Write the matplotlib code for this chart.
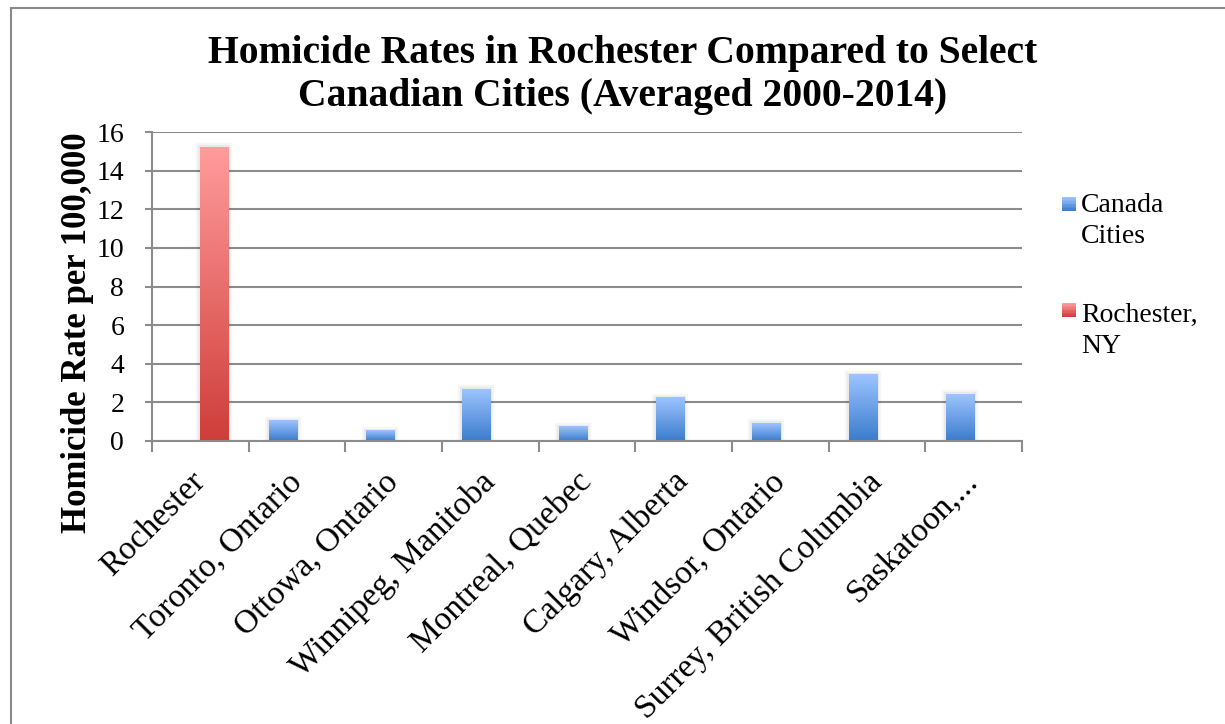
import matplotlib.pyplot as plt
import numpy as np
from matplotlib.colors import LinearSegmentedColormap
from matplotlib.patches import Rectangle

# data
cities = ["Rochester", "Toronto, Ontario", "Ottowa, Ontario", "Winnipeg, Manitoba",
          "Montreal, Quebec", "Calgary, Alberta", "Windsor, Ontario",
          "Surrey, British Columbia", "Saskatoon,..."]
canada = [np.nan, 1.04, 0.52, 2.69, 0.73, 2.23, 0.93, 3.42, 2.43]
rochester = [15.2, np.nan, np.nan, np.nan, np.nan, np.nan, np.nan, np.nan, np.nan]
series_names = ["Canada\nCities", "Rochester,\nNY"]

blue_top, blue_bot = "#9dc4ff", "#3b7ccc"
red_top, red_bot = "#ff9c9c", "#cf3d39"
grid_col = "#8c8c8c"

plt.rcParams['font.family'] = ["Liberation Serif", "DejaVu Serif"]

W, H = 1225, 724
fig = plt.figure(figsize=(W / 100, H / 100), dpi=100)
ax = fig.add_axes([152/W, 1 - 441/H, (1022 - 152)/W, (441 - 132)/H])

# outer chart frame (runs off the right and bottom edge like the original)
fig.patches.append(Rectangle((11/W, -0.1), 1.2, 1 - 8/H + 0.1, transform=fig.transFigure,
                             fill=False, edgecolor="#8a8a8a", linewidth=1.5))

x = np.arange(len(cities))
w = 0.29
b1 = ax.bar(x - w/2, canada, w, color="none", edgecolor="none")
b2 = ax.bar(x + w/2, rochester, w, color="none", edgecolor="none")


def gradient_fill(bars, top, bot):
    cmap = LinearSegmentedColormap.from_list("g", [bot, top])
    grad = np.linspace(0, 1, 256).reshape(-1, 1)
    for r in bars:
        h = r.get_height()
        if not np.isfinite(h) or h == 0:
            continue
        x0 = r.get_x()
        # faint shadow halo
        for lw, a in [(6, 0.035), (3, 0.05)]:
            ax.add_patch(Rectangle((x0, 0), r.get_width(), h, facecolor="none",
                                   edgecolor="black", alpha=a, linewidth=lw, zorder=2))
        ax.imshow(grad, cmap=cmap, origin="lower", aspect="auto",
                  extent=[x0, x0 + r.get_width(), 0, h], zorder=3)


gradient_fill(b1, blue_top, blue_bot)
gradient_fill(b2, red_top, red_bot)

ax.set_xlim(-0.5, len(cities) - 0.5)
ax.set_ylim(0, 16)
ax.set_yticks(np.arange(0, 17, 2))
ax.yaxis.grid(True, color=grid_col, linewidth=1.5)
ax.set_axisbelow(True)

for s in ["top", "right"]:
    ax.spines[s].set_visible(False)
for s in ["left", "bottom"]:
    ax.spines[s].set_color(grid_col)
    ax.spines[s].set_linewidth(1.5)
    ax.spines[s].set_zorder(4)

ax.set_xticks(np.arange(-0.5, len(cities), 1))
ax.set_xticklabels([])
ax.set_xticks(x, minor=True)
ax.set_xticklabels(cities, minor=True, rotation=45, ha="right", va="center",
                   rotation_mode="anchor", fontsize=24)
ax.tick_params(axis="x", which="major", length=8, width=1.5, color=grid_col, direction="out")
ax.tick_params(axis="x", which="minor", length=0, pad=26)
ax.tick_params(axis="y", length=5, width=1.5, color=grid_col, labelsize=20, pad=15)

ax.set_ylabel("Homicide Rate per 100,000", fontsize=25, fontweight="bold")
ax.yaxis.set_label_coords(94/W, 1 - 333/H, transform=fig.transFigure)

fig.text(623/W, 1 - 75/H, "Homicide Rates in Rochester Compared to Select\nCanadian Cities (Averaged 2000-2014)",
         ha="center", va="center", fontsize=28.5, fontweight="bold", linespacing=1.2)

# legend, drawn by hand so the swatch sits on the first text line
cmaps = [LinearSegmentedColormap.from_list("b", [blue_bot, blue_top]),
         LinearSegmentedColormap.from_list("r", [red_bot, red_top])]
swatch_y = [204, 310]
text_top = [193, 303]
for name, cm, yc, ty in zip(series_names, cmaps, swatch_y, text_top):
    n = 10
    for i in range(n):
        fig.patches.append(Rectangle((1062/W, 1 - (yc + 7)/H + 14/H * i / n), 14/W, 14/H / n + 0.3/H,
                                     transform=fig.transFigure, facecolor=cm(i / (n - 1)),
                                     edgecolor="none"))
    fig.text(1081/W, 1 - ty/H, name, ha="left", va="top", fontsize=20, linespacing=1.32)

fig.savefig("out.png", dpi=100, facecolor="white")
